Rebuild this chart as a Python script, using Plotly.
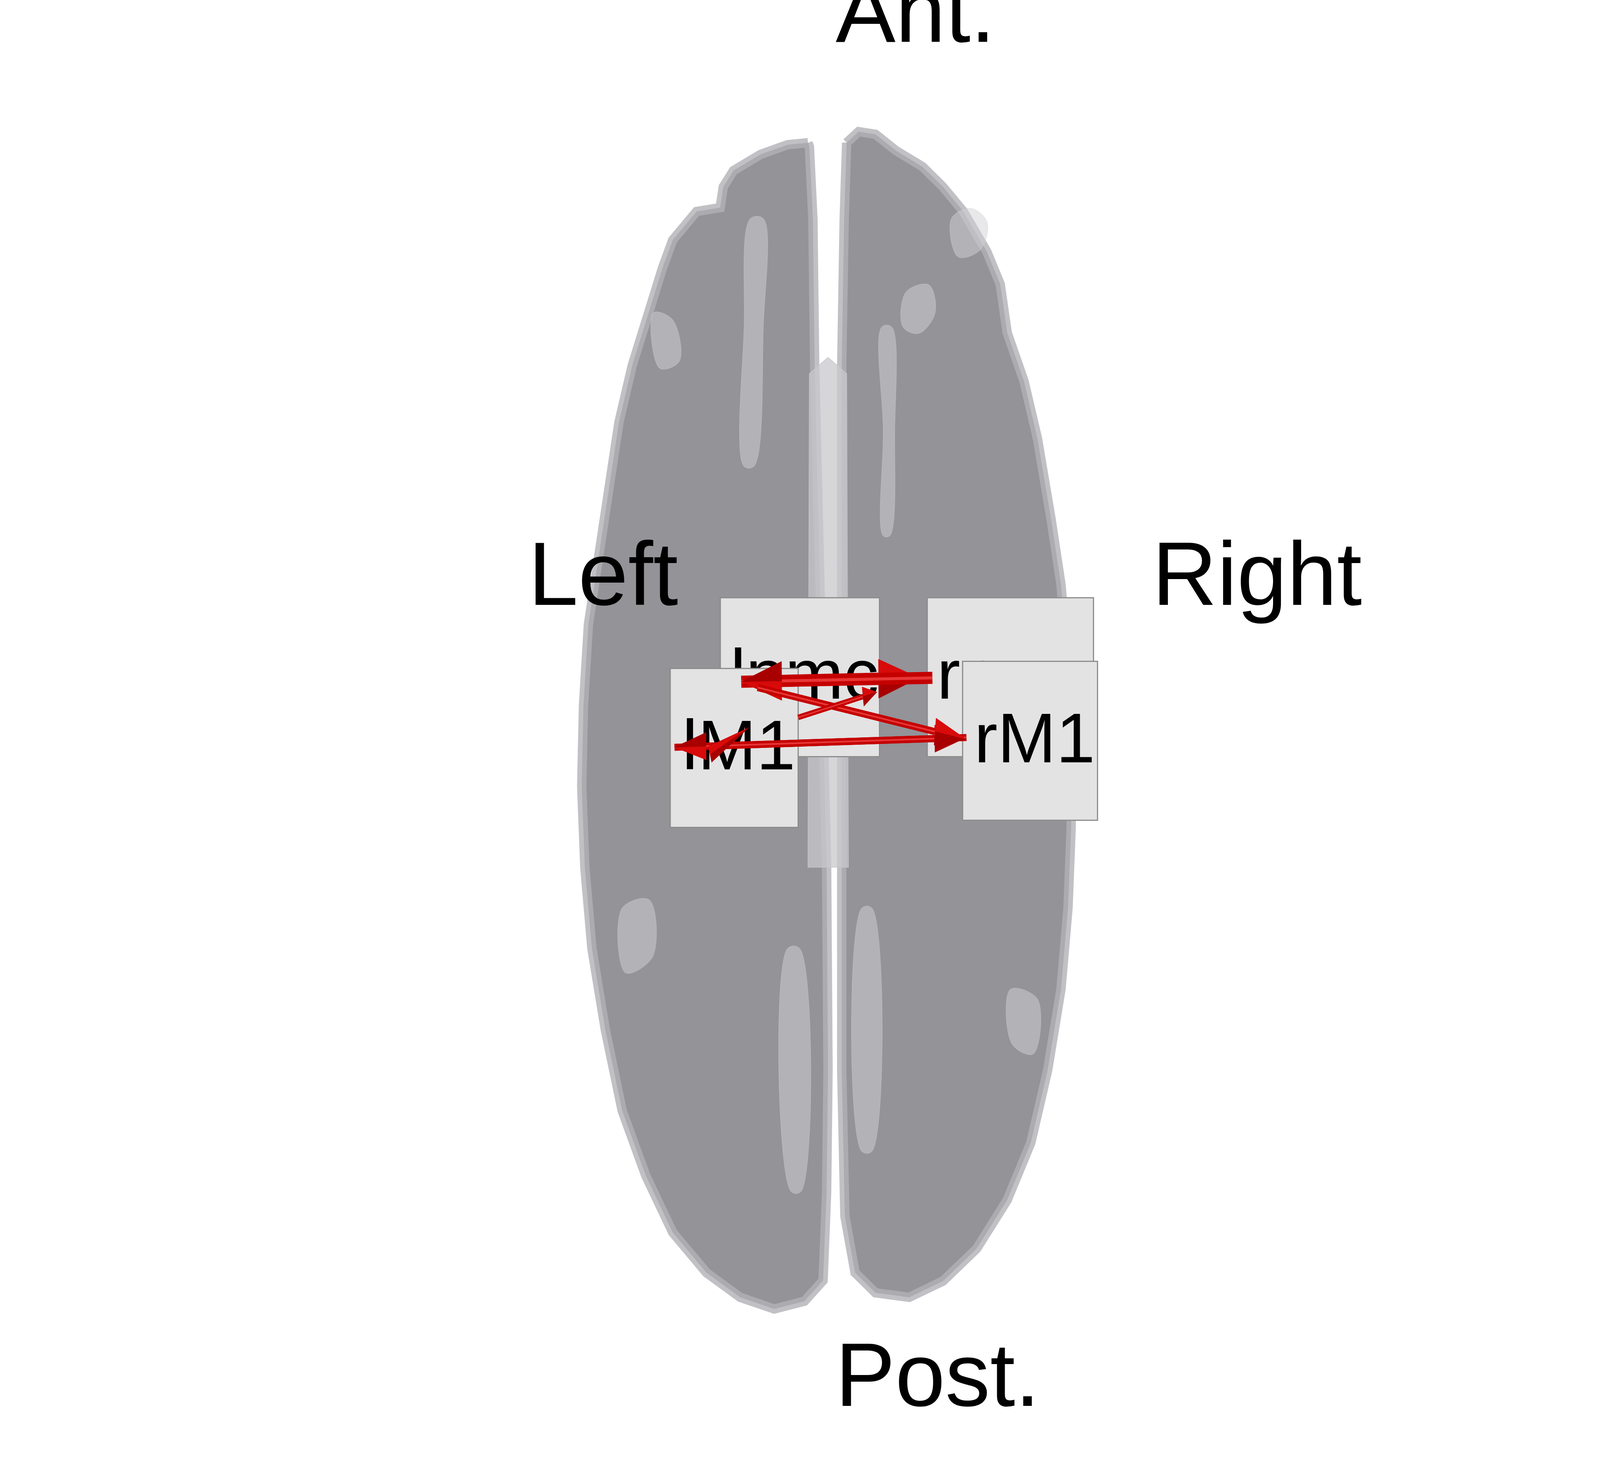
import math
import plotly.graph_objects as go

# brain outline, top view (mm, x = left/right, y = post/ant)
left_hemi_x = [-7.1, -12.9, -20.6, -28.3, -31.2, -32.1, -38.8, -45.6, -48.5, -52.3, -57.1, -60.9,
               -63.8, -66.7, -69.6, -71.0, -71.5, -70.6, -68.6, -64.8, -60.0, -53.3, -45.6, -36.0,
               -26.4, -16.7, -8.1, -2.8, -1.8, -1.4, -1.8, -5.2, -5.7, -6.7]
left_hemi_y = [69.0, 68.7, 67.2, 64.7, 62.2, 59.0, 58.4, 54.0, 49.7, 43.4, 34.7, 25.9,
               15.9, 5.9, -5.3, -17.8, -30.3, -42.8, -55.2, -67.7, -80.2, -90.2, -99.0, -105.2,
               -109.0, -110.8, -109.6, -106.4, -92.7, -74.0, -42.7, 34.7, 57.2, 68.4]
right_hemi_x = [3.9, 7.3, 12.1, 17.9, 25.5, 31.3, 37.1, 43.8, 47.6, 49.6, 54.4, 58.2, 62.1,
                64.9, 66.9, 67.8, 67.8, 66.9, 64.9, 61.1, 56.3, 49.6, 40.9, 31.3, 21.7, 12.1,
                6.3, 3.4, 2.5, 2.5, 2.5, 3.2]
right_hemi_y = [69.0, 70.7, 70.3, 67.8, 65.3, 62.2, 58.4, 52.2, 47.2, 39.7, 32.2, 23.4, 10.9,
                0.9, -11.5, -24.0, -36.5, -49.0, -61.5, -74.0, -85.2, -94.0, -101.5, -106.5,
                -109.0, -108.3, -105.2, -96.5, -74.0, -42.7, 34.7, 57.2]
medial_x = [-6.7, -1.4, 3.9, 4.4, -7.1]
medial_y = [33.4, 35.9, 33.4, -42.7, -42.7]

# lighter gyri seen through the glass surface
light_patches_x = [
    [-23.5, -19.8, -19.8, -22.5, -25.3, -25.3],
    [20.8, 27.3, 29.1, 24.5, 19.9],
    [13.9, 16.7, 17.6, 16.2, 14.3, 14.3],
    [-51.1, -45.6, -43.7, -49.3],
    [33.7, 39.2, 43.9, 42.0, 35.6],
    [-60.0, -52.3, -51.3, -59.0],
    [-12.9, -9.5, -9.1, -11.9],
    [8.2, 11.1, 11.1, 8.2],
    [50.5, 58.2, 57.0, 51.0],
]
light_patches_y = [
    [57.3, 57.3, 40.6, 19.1, 19.1, 40.6],
    [46.0, 47.1, 42.8, 39.6, 40.6],
    [40.6, 40.6, 24.5, 8.4, 8.4, 24.5],
    [42.8, 41.7, 35.3, 34.2],
    [57.3, 58.9, 56.8, 52.5, 51.4],
    [-49.0, -47.7, -56.5, -59.0],
    [-55.2, -55.2, -92.7, -92.7],
    [-49.0, -49.0, -86.5, -86.5],
    [-61.5, -63.0, -71.5, -70.0],
]

# regions
nodes = ["lpmc", "rpmc", "lM1", "rM1"]
node_x = [-9.4, 50.5, -28.1, 56.1]
node_y = [-13.4, -13.4, -24.3, -23.2]

# connections (start -> end, mm)
arrow_x0 = [-45.1, 38.0, -26.1, 28.3, -21.4, -9.9, -35.0]
arrow_y0 = [-24.2, -22.7, -14.1, -13.5, -15.0, -19.6, -25.3]
arrow_x1 = [38.0, -45.1, 24.5, -26.1, 38.0, 12.5, -24.0]
arrow_y1 = [-22.7, -24.2, -13.5, -14.1, -23.0, -15.7, -21.2]
arrow_kind = ["thin", "thin", "thick", "thick", "thin", "small", "cone"]

# orientation labels
dir_labels = ["Ant.", "Post.", "Left", "Right"]
dir_x = [23.5, 29.8, -65.4, 120.7]
dir_y = [88.0, -122.3, 1.2, 1.2]

# the browser caps the window at 4096 px wide, so draw at that size
W, H = 4096, 3780
FONT = "Liberation Sans, Arial, sans-serif"
box_w = {"lpmc": 45.3, "rpmc": 47.3, "lM1": 36.4, "rM1": 38.4}
box_h = 24.5
styles = {
    "thin": dict(w=18, hl=9.0, hw=2.1),
    "thick": dict(w=31, hl=11.5, hw=3.0),
    "small": dict(w=14, hl=4.0, hw=1.5),
    "cone": dict(w=0, hl=11.7, hw=1.3),
}

fig = go.Figure()

# brain
for hx, hy in [(left_hemi_x, left_hemi_y), (right_hemi_x, right_hemi_y)]:
    fig.add_trace(go.Scatter(x=hx + hx[:1], y=hy + hy[:1], mode="lines", fill="toself",
                             fillcolor="rgba(128,128,134,0.85)",
                             line=dict(color="rgba(178,178,182,0.8)", width=24),
                             hoverinfo="skip"))
fig.add_trace(go.Scatter(x=medial_x + medial_x[:1], y=medial_y + medial_y[:1], mode="lines",
                         fill="toself", fillcolor="rgba(200,200,204,0.75)",
                         line=dict(color="rgba(200,200,204,0.75)", width=2), hoverinfo="skip"))
for px_, py_ in zip(light_patches_x, light_patches_y):
    fig.add_trace(go.Scatter(x=px_ + px_[:1], y=py_ + py_[:1], mode="lines", fill="toself",
                             fillcolor="rgba(210,210,214,0.5)",
                             line=dict(color="rgba(210,210,214,0.5)", width=1, shape="spline"),
                             hoverinfo="skip"))

# label boxes, drawn in order so later ones hide earlier ones
for name, cx, cy in zip(nodes, node_x, node_y):
    hw = box_w[name] / 2
    fig.add_trace(go.Scatter(x=[cx - hw, cx + hw, cx + hw, cx - hw, cx - hw],
                             y=[cy - box_h / 2, cy - box_h / 2, cy + box_h / 2, cy + box_h / 2, cy - box_h / 2],
                             mode="lines", fill="toself", fillcolor="#e3e3e3",
                             line=dict(color="#8c8c8c", width=3), hoverinfo="skip"))
    fig.add_trace(go.Scatter(x=[cx + 1.3], y=[cy - 0.6], mode="text", text=[name],
                             textposition="middle center",
                             textfont=dict(family=FONT, size=180, color="black"),
                             hoverinfo="skip"))

# arrows
for x0, y0, x1, y1, kind in zip(arrow_x0, arrow_y0, arrow_x1, arrow_y1, arrow_kind):
    st = styles[kind]
    L = math.hypot(x1 - x0, y1 - y0)
    ux, uy = (x1 - x0) / L, (y1 - y0) / L
    px, py = -uy, ux
    bx, by = x1 - ux * st["hl"], y1 - uy * st["hl"]
    if st["w"] > 0:
        fig.add_trace(go.Scatter(x=[x0, bx], y=[y0, by], mode="lines",
                                 line=dict(color="#c40000", width=st["w"]), hoverinfo="skip"))
        fig.add_trace(go.Scatter(x=[x0, bx], y=[y0, by], mode="lines",
                                 line=dict(color="rgba(255,90,90,0.6)", width=st["w"] * 0.25),
                                 hoverinfo="skip"))
    fig.add_trace(go.Scatter(x=[x1, bx + px * st["hw"], bx, x1], y=[y1, by + py * st["hw"], by, y1],
                             mode="lines", fill="toself", fillcolor="#d80a0a",
                             line=dict(color="#d80a0a", width=1), hoverinfo="skip"))
    fig.add_trace(go.Scatter(x=[x1, bx, bx - px * st["hw"], x1], y=[y1, by, by - py * st["hw"], y1],
                             mode="lines", fill="toself", fillcolor="#a80000",
                             line=dict(color="#a80000", width=1), hoverinfo="skip"))

fig.add_trace(go.Scatter(x=dir_x, y=dir_y, mode="text", text=dir_labels,
                         textposition="middle center", cliponaxis=False,
                         textfont=dict(family=FONT, size=230, color="black"),
                         hoverinfo="skip"))

fig.update_layout(
    width=W, height=H,
    margin=dict(l=0, r=0, t=0, b=0),
    paper_bgcolor="white", plot_bgcolor="white",
    showlegend=False,
    xaxis=dict(range=[-237.05, 218.3], visible=False, fixedrange=True),
    yaxis=dict(range=[-136.7, 91.0], visible=False, fixedrange=True),
)

fig.write_html("out.html", config={"displayModeBar": False},
               post_script="document.body.style.margin = '0';")
